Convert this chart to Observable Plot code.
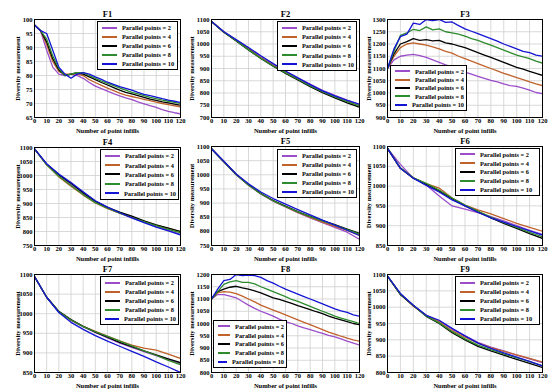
<!DOCTYPE html>
<html>
<head>
<meta charset="utf-8">
<script src="https://cdn.jsdelivr.net/npm/d3@7"></script>
<script src="https://cdn.jsdelivr.net/npm/@observablehq/plot@0.6"></script>
<style>
  html, body { margin: 0; padding: 0; background: #fff; }
  #root { position: relative; width: 550px; height: 392px; overflow: hidden; background: #fff; }
  .panel { position: absolute; }
  .legend { position: absolute; background: #fff; border: 1px solid #000; box-sizing: border-box;
    display: flex; flex-direction: column; justify-content: space-around; padding: 1px 2px;
    font-family: "Liberation Serif", "DejaVu Serif", serif; font-weight: bold; font-size: 6.3px; }
  .legend .row { display: flex; align-items: center; white-space: nowrap; }
  .legend .sw { display: inline-block; width: 15px; height: 2px; margin: 0 5px 0 2px; }
</style>
</head>
<body>
<div id="root"></div>
<script>
// ---------- data ----------
const seriesNames = ["Parallel points = 2", "Parallel points = 4", "Parallel points = 6", "Parallel points = 8", "Parallel points = 10"];
const seriesColors = ["#9b4dca", "#c0622b", "#000000", "#2e8b2e", "#1414d4"];
const titles = ["F1", "F2", "F3", "F4", "F5", "F6", "F7", "F8", "F9"];
const xs5 = [0,5,10,15,20,25,30,35,40,45,50,55,60,65,70,75,80,85,90,95,100,105,110,115,120];
const xs10 = [0,10,20,30,40,50,60,70,80,90,100,110,120];
const xTicks = [0,10,20,30,40,50,60,70,80,90,100,110,120];

const F1 = [
  [98,96,89,83,80.5,80,80.5,80,79,77.5,76.2,75.3,74.4,73.5,72.7,72,71.4,70.6,69.9,69.2,68.6,67.8,67.2,66.7,66.3],
  [98,96,91,85,81.5,80.5,80.5,80.5,80,78.5,77.5,76.5,75.5,74.6,73.7,73,72.5,72,71.5,71,70.5,70,69.6,69.2,68.8],
  [98,96,92,86,82,80,80.5,81,80.5,79.5,78.5,77.5,76.6,75.7,74.8,74,73.4,72.8,72.2,71.6,71.1,70.6,70.2,69.8,69.4],
  [98,96,93,87,82.5,80,80.5,81,81,80,79,78,77.2,76.4,75.6,74.8,74,73.4,72.8,72.2,71.7,71.2,70.8,70.4,70],
  [98,96,95,89,83,80.5,79,80.5,81,80.5,79.5,78.6,77.6,76.8,76,75.4,74.8,74,73.3,72.8,72.3,71.7,71.2,70.8,70.4]
];
const F2 = [
  [1092,1050,1016,982,948,916,888,862,836,811,790,771,754],
  [1092,1049,1014,979,944,912,884,857,830,805,784,765,748],
  [1092,1048,1012,976,941,909,880,853,826,801,780,760,742],
  [1092,1049,1013,977,942,910,882,856,829,805,784,765,747],
  [1092,1050,1018,986,952,920,890,862,834,809,788,770,754]
];
const F3 = [
  [1100,1135,1150,1155,1158,1153,1145,1135,1125,1115,1107,1095,1085,1077,1068,1060,1052,1045,1037,1030,1027,1020,1012,1002,997],
  [1100,1150,1185,1200,1205,1200,1195,1188,1180,1170,1163,1150,1140,1130,1120,1110,1100,1090,1080,1072,1063,1055,1045,1037,1030],
  [1100,1160,1200,1210,1222,1215,1218,1213,1215,1205,1200,1192,1185,1175,1165,1155,1145,1135,1125,1115,1105,1097,1088,1080,1072],
  [1100,1170,1235,1245,1260,1255,1270,1258,1262,1250,1245,1240,1232,1222,1215,1205,1195,1185,1175,1165,1155,1147,1140,1130,1122],
  [1100,1180,1230,1240,1285,1280,1300,1295,1300,1288,1290,1275,1262,1252,1242,1232,1222,1212,1200,1190,1180,1170,1165,1155,1150]
];
const F4 = [
  [1095,1040,1000,968,935,905,884,866,849,833,818,804,790],
  [1095,1038,995,962,930,902,882,866,851,837,823,811,800],
  [1095,1040,1003,972,938,908,886,869,855,838,824,812,800],
  [1095,1038,997,964,932,903,883,866,850,835,821,808,796],
  [1095,1042,1005,975,942,910,887,867,849,832,816,802,788]
];
const F5 = [
  [1092,1045,1000,963,932,907,886,866,848,831,814,797,772],
  [1092,1046,1001,964,933,908,887,867,849,833,818,803,786],
  [1092,1047,1002,965,934,909,889,870,853,838,824,808,793],
  [1092,1046,1001,964,933,908,888,869,852,837,822,806,790],
  [1092,1048,1003,968,939,916,896,877,858,840,822,804,785]
];
const F6 = [
  [1095,1055,1020,1003,975,950,942,933,923,912,900,888,878],
  [1095,1045,1021,1006,995,970,952,940,930,918,906,896,886],
  [1095,1045,1020,1005,988,968,950,935,920,906,893,880,868],
  [1095,1046,1021,1007,990,970,952,937,922,908,896,883,872],
  [1095,1045,1020,1002,985,965,950,934,920,909,898,887,876]
];
const F7 = [
  [1095,1042,1005,983,966,952,938,925,914,903,893,882,873],
  [1095,1042,1005,984,968,955,943,931,920,912,907,897,886],
  [1095,1042,1006,985,968,953,940,927,916,905,895,885,875],
  [1095,1042,1005,984,967,954,942,930,918,905,894,881,870],
  [1095,1042,1003,978,960,944,930,917,904,891,877,864,850]
];
const F8 = [
  [1100,1118,1118,1112,1105,1090,1075,1062,1050,1040,1030,1018,1008,1000,990,982,975,967,960,952,945,937,928,920,912],
  [1100,1125,1130,1128,1122,1112,1100,1088,1075,1065,1055,1045,1035,1025,1015,1005,995,985,975,965,957,948,940,933,928],
  [1100,1130,1140,1148,1152,1145,1140,1133,1125,1115,1105,1098,1090,1082,1073,1065,1057,1048,1040,1030,1022,1015,1008,1000,995],
  [1100,1130,1160,1170,1175,1168,1168,1162,1150,1140,1130,1120,1110,1098,1090,1080,1070,1060,1050,1040,1030,1022,1015,1008,1000],
  [1100,1140,1175,1180,1200,1195,1198,1195,1188,1175,1165,1152,1140,1130,1120,1110,1100,1090,1080,1070,1060,1052,1045,1035,1030]
];
const F9 = [
  [1095,1040,1005,975,958,933,912,892,878,866,853,842,830],
  [1095,1040,1003,975,955,928,908,890,876,865,854,843,832],
  [1095,1038,1005,972,950,922,900,880,866,853,840,828,815],
  [1095,1040,1005,973,952,925,903,884,870,857,845,833,820],
  [1095,1042,1006,975,960,935,912,890,874,860,847,834,820]
];

const yDomains = [[65,100],[700,1100],[900,1300],[750,1100],[750,1100],[850,1100],[850,1100],[800,1200],[800,1100]];
const yTickSteps = [5,50,50,50,50,50,50,50,50];

// ---------- layout ----------
const panels = [
  {data: F1, xs: xs5,  frame: [34, 180, 19, 117],  legend: [97, 21, 81, 49],   yOff: 19.5},
  {data: F2, xs: xs10, frame: [211, 359, 19, 117], legend: [277, 21, 80, 50],  yOff: 22},
  {data: F3, xs: xs5,  frame: [387, 542, 19, 117], legend: [390, 65, 77, 46],  yOff: 21.5},
  {data: F4, xs: xs10, frame: [34, 180, 147, 245], legend: [100, 149, 79, 51], yOff: 19.5},
  {data: F5, xs: xs10, frame: [211, 359, 146, 245], legend: [277, 149, 80, 49], yOff: 22},
  {data: F6, xs: xs10, frame: [387, 542, 146, 245], legend: [455, 148, 85, 48], yOff: 21.5},
  {data: F7, xs: xs10, frame: [34, 180, 274, 372], legend: [100, 276, 79, 49], yOff: 19.5},
  {data: F8, xs: xs5,  frame: [211, 359, 274, 372], legend: [213, 320, 74, 48], yOff: 22},
  {data: F9, xs: xs10, frame: [387, 542, 274, 372], legend: [455, 276, 85, 49], yOff: 21.5}
];

const root = document.getElementById("root");
const mL = 34, mR = 8, mT = 20, mB = 20;

panels.forEach((p, i) => {
  const rows = [];
  p.data.forEach((vals, s) => vals.forEach((v, k) => rows.push({x: p.xs[k], y: v, s: seriesNames[s]})));
  const [lo, hi] = yDomains[i];
  const yTicks = d3.range(lo, hi + 1e-9, yTickSteps[i]);
  const [fl, fr, ft, fb] = p.frame;
  const W = fr - fl + mL + mR, H = fb - ft + mT + mB;
  const chart = Plot.plot({
    width: W, height: H,
    marginLeft: mL, marginRight: mR, marginTop: mT, marginBottom: mB,
    style: {fontFamily: "'Liberation Serif', 'DejaVu Serif', serif", fontWeight: "bold", fontSize: "6.5px", background: "transparent", color: "#000", overflow: "visible"},
    x: {domain: [0, 120]},
    y: {domain: [lo, hi]},
    color: {domain: seriesNames, range: seriesColors},
    marks: [
      Plot.gridX(xTicks, {stroke: "#cfcfcf", strokeOpacity: 1, strokeWidth: 0.8}),
      Plot.gridY(yTicks, {stroke: "#cfcfcf", strokeOpacity: 1, strokeWidth: 0.8}),
      Plot.line(rows, {x: "x", y: "y", z: "s", stroke: "s", strokeWidth: 1.3, clip: true}),
      Plot.frame({stroke: "#000", strokeWidth: 1}),
      Plot.axisX(xTicks, {tickSize: 0, tickPadding: 1, fontSize: 6.5, tickFormat: d3.format("d"), label: "Number of point infills", labelAnchor: "center", labelOffset: 15, labelArrow: "none"}),
      Plot.axisY(yTicks, {tickSize: 0, tickPadding: 2, fontSize: 6.5, tickFormat: d3.format("d"), label: "Diversity measurement", labelAnchor: "center", labelOffset: p.yOff, labelArrow: "none"}),
      Plot.text([titles[i]], {text: d => d, frameAnchor: "top", dy: -3, lineAnchor: "bottom", fontSize: 8.5, fontWeight: "bold"})
    ]
  });
  chart.classList.add("panel");
  chart.style.left = (fl - mL) + "px";
  chart.style.top = (ft - mT) + "px";
  root.appendChild(chart);

  const [lx, ly, lw, lh] = p.legend;
  const lg = document.createElement("div");
  lg.className = "legend";
  Object.assign(lg.style, {left: lx + "px", top: ly + "px", width: lw + "px", height: lh + "px"});
  seriesNames.forEach((n, s) => {
    const r = document.createElement("div");
    r.className = "row";
    const sw = document.createElement("span");
    sw.className = "sw";
    sw.style.background = seriesColors[s];
    r.appendChild(sw);
    r.appendChild(document.createTextNode(n));
    lg.appendChild(r);
  });
  root.appendChild(lg);
});
</script>
</body>
</html>
